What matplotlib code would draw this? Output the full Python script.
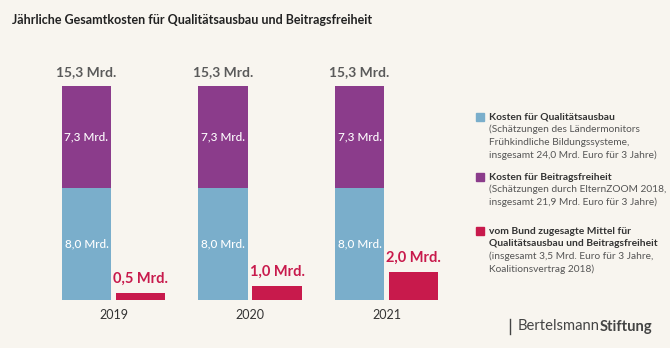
import numpy as np
import matplotlib.pyplot as plt

# Data (Mrd. Euro)
years = ['2019', '2020', '2021']
kosten_qualitaet = [8.0, 8.0, 8.0]
kosten_beitrag = [7.3, 7.3, 7.3]
bund_mittel = [0.5, 1.0, 2.0]

c_blue = '#7aaecb'
c_purple = '#8b3c8b'
c_red = '#c81a4c'
c_bg = '#f8f5ef'

plt.rcParams['font.family'] = ['Lato', 'DejaVu Sans']

W, H = 670, 348
fig = plt.figure(figsize=(W / 100, H / 100), dpi=100, facecolor=c_bg)

# axes in pixel coordinates
ax_left, ax_right, ax_top, ax_bottom = 20, 470, 55, 299.5
ax = fig.add_axes([ax_left / W, 1 - ax_bottom / H, (ax_right - ax_left) / W, (ax_bottom - ax_top) / H])
ax.set_facecolor(c_bg)

px_per_group = 136.5
x0_px = 113.5
ax.set_xlim((ax_left - x0_px) / px_per_group, (ax_right - x0_px) / px_per_group)
px_per_unit = (299.5 - 86) / 15.3
ax.set_ylim(0, (ax_bottom - ax_top) / px_per_unit)

x = np.arange(len(years))
off = 27.0 / px_per_group
bw = 49.5 / px_per_group
lab_off = 13.5 / px_per_unit


def fmt(v):
    return f'{v:.1f} Mrd.'.replace('.', ',', 1)


ax.bar(x - off, kosten_qualitaet, width=bw, color=c_blue)
ax.bar(x - off, kosten_beitrag, width=bw, bottom=kosten_qualitaet, color=c_purple)
ax.bar(x + off, bund_mittel, width=bw, color=c_red)

for i in range(len(years)):
    q, b, r = kosten_qualitaet[i], kosten_beitrag[i], bund_mittel[i]
    ax.text(x[i] - off, q / 2, fmt(q), ha='center', va='center',
            color='white', fontsize=8.5, fontweight='medium')
    ax.text(x[i] - off, q + b / 2, fmt(b), ha='center', va='center',
            color='white', fontsize=8.5, fontweight='medium')
    tot = q + b
    ax.text(x[i] - off, tot + lab_off, fmt(tot), ha='center', va='center',
            color='#5a5a5a', fontsize=10, fontweight='bold')
    ax.text(x[i] + off, r + lab_off, fmt(r), ha='center', va='center',
            color=c_red, fontsize=10.5, fontweight='bold')

ax.set_xticks(x)
ax.set_xticklabels(years, fontsize=9, color='#333333')
ax.tick_params(axis='x', length=0, pad=7)
ax.set_yticks([])
for s in ax.spines.values():
    s.set_visible(False)

# title
fig.text(12 / W, 1 - 20 / H, 'Jährliche Gesamtkosten für Qualitätsausbau und Beitragsfreiheit',
         fontsize=9.0, fontweight='bold', color='#222222', ha='left', va='center')


# legend
def fy(py):
    return 1 - py / H


legend_blocks = [
    (c_blue, 117, ['Kosten für Qualitätsausbau'],
     ['(Schätzungen des Ländermonitors', 'Frühkindliche Bildungssysteme,',
      'insgesamt 24,0 Mrd. Euro für 3 Jahre)']),
    (c_purple, 177, ['Kosten für Beitragsfreiheit'],
     ['(Schätzungen durch ElternZOOM 2018,', 'insgesamt 21,9 Mrd. Euro für 3 Jahre)']),
    (c_red, 231, ['vom Bund zugesagte Mittel für', 'Qualitätsausbau und Beitragsfreiheit'],
     ['(insgesamt 3,5 Mrd. Euro für 3 Jahre,', 'Koalitionsvertrag 2018)']),
]
line_h = 12.7
for col, y0, bold_lines, norm_lines in legend_blocks:
    fig.patches.append(plt.Rectangle((476 / W, fy(y0 + 4)), 8 / W, 8 / H,
                                     transform=fig.transFigure, color=col))
    yy = y0
    for t in bold_lines:
        fig.text(489 / W, fy(yy), t, fontsize=7.4, fontweight='bold', color='#333333', va='center')
        yy += line_h
    for t in norm_lines:
        fig.text(489 / W, fy(yy), t, fontsize=7.3, color='#555555', va='center')
        yy += line_h

# logo
fig.lines.append(plt.Line2D([510 / W, 510 / W], [fy(319), fy(334)], transform=fig.transFigure,
                            color='#444444', lw=1))
t1 = fig.text(518 / W, fy(326.5), 'Bertelsmann', fontsize=10.6, color='#444444', va='center')
fig.canvas.draw()
bb = t1.get_window_extent()
fig.text(bb.x1 / W, fy(326.5), 'Stiftung', fontsize=10.6, fontweight='bold', color='#444444', va='center')

fig.savefig('out.png', dpi=100, facecolor=c_bg)
